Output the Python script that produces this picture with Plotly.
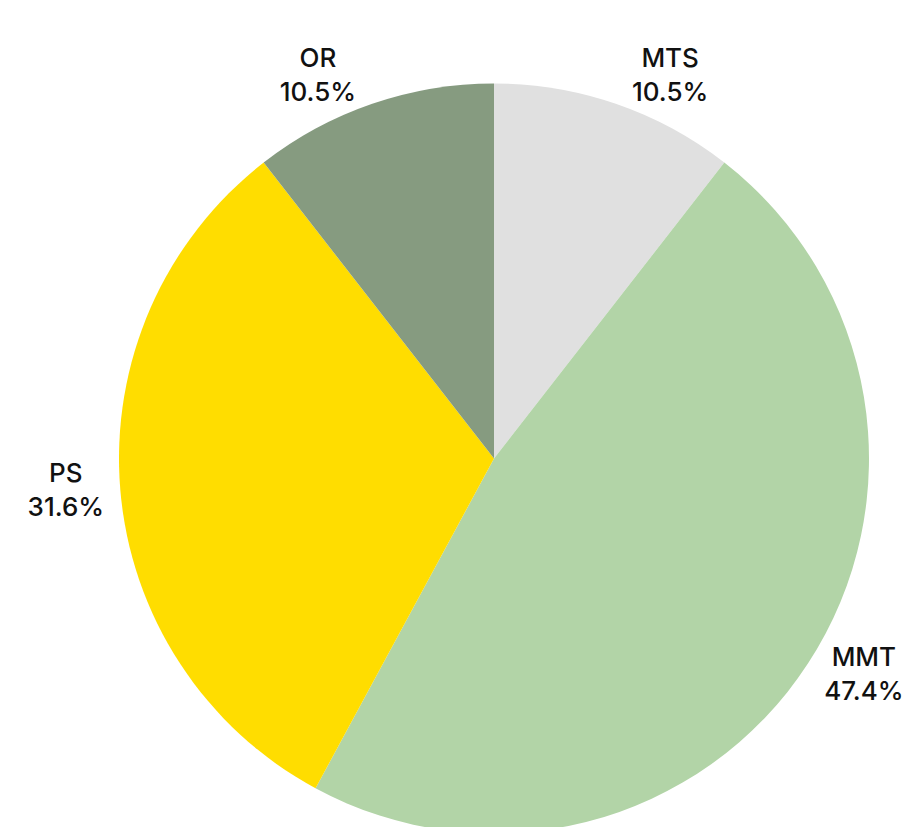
import plotly.graph_objects as go

labels = ['MTS', 'MMT', 'PS', 'OR']
counts = [2, 9, 6, 2]
colors = ['#e0e0e0', '#b2d4a7', '#ffdd00', '#869b80']

fig = go.Figure()
fig.add_trace(go.Pie(
    labels=labels,
    values=counts,
    sort=False,
    direction='clockwise',
    rotation=0,
    marker=dict(colors=colors, line=dict(width=0)),
    textposition='outside',
    texttemplate='%{label}<br>%{percent:.1%}',
    textfont=dict(family='Inter', size=26, color='#111111', weight=500),
    showlegend=False,
    hoverinfo='label+percent',
))

# figure is a bit taller than the window so the pie runs off the bottom edge
fig.update_layout(
    width=915,
    height=860,
    margin=dict(l=0, r=0, t=4, b=0),
    paper_bgcolor='white',
    plot_bgcolor='white',
)

fig.write_html('out.html')
